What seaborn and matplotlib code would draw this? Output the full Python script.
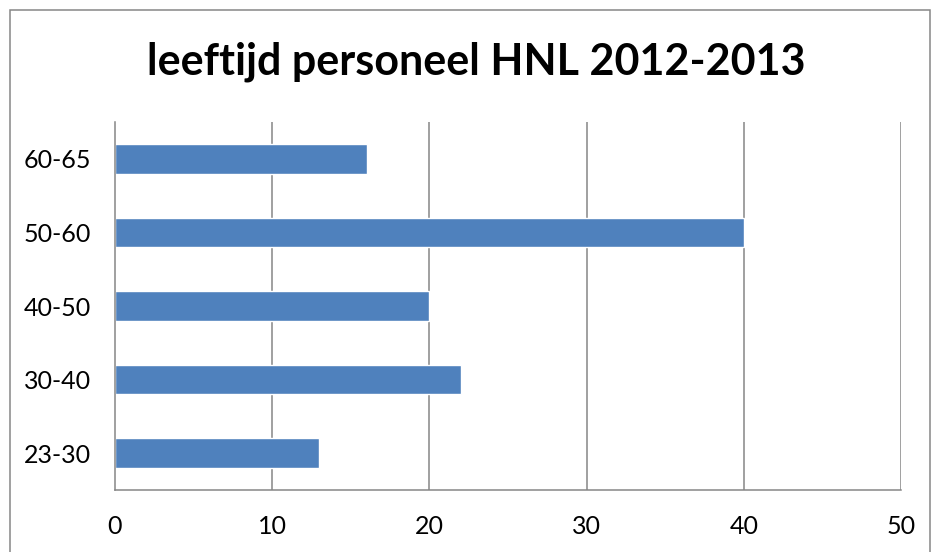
import matplotlib.pyplot as plt
import matplotlib.patches as mpatches
import pandas as pd
import seaborn as sns

# data
categories = ["60-65", "50-60", "40-50", "30-40", "23-30"]
values = [16, 40, 20, 22, 13]
x_ticks = [0, 10, 20, 30, 40, 50]

BAR_COLOR = "#4F81BD"
LINE_COLOR = "#868686"

sns.set_style("white")
plt.rcParams["font.family"] = ["Lato", "DejaVu Sans"]

df = pd.DataFrame({"leeftijd": categories, "aantal": values})

W, H = 931, 552
fig = plt.figure(figsize=(W / 100, H / 100), dpi=100)
ax = fig.add_axes([115 / W, (H - 490) / H, (901 - 115) / W, (490 - 122) / H])

sns.barplot(data=df, x="aantal", y="leeftijd", order=categories, orient="h",
            color=BAR_COLOR, width=0.4, saturation=1, ax=ax, zorder=3)

ax.set_xlim(0, 50)
ax.set_xticks(x_ticks)
ax.set_ylim(len(categories) - 0.5, -0.5)
ax.set_xlabel("")
ax.set_ylabel("")

# gridlines
for t in x_ticks[1:]:
    ax.axvline(t, color=LINE_COLOR, lw=1.1, zorder=1)

# spines
for s in ["top", "right"]:
    ax.spines[s].set_visible(False)
for s in ["left", "bottom"]:
    ax.spines[s].set_color(LINE_COLOR)
    ax.spines[s].set_linewidth(1.1)
    ax.spines[s].set_zorder(4)

# category ticks at boundaries (Excel style)
ax.set_yticks([i - 0.5 for i in range(len(categories) + 1)], minor=True)
ax.tick_params(axis="y", which="major", length=0, pad=17, labelsize=18, labelcolor="black")
ax.tick_params(axis="y", which="minor", length=8, width=1.1, color=LINE_COLOR, direction="out")
ax.tick_params(axis="x", which="major", length=8, width=1.1, color=LINE_COLOR, direction="out",
               pad=10, labelsize=18, labelcolor="black")

fig.text(476 / W, 1 - 62 / H, "leeftijd personeel HNL 2012-2013", ha="center", va="center",
         fontsize=31, fontweight="bold", color="black")

# chart border
fig.patches.append(mpatches.Rectangle((10 / W, -0.1), (930 - 10) / W, 1.1 - 10 / H,
                                      transform=fig.transFigure, fill=False,
                                      edgecolor=LINE_COLOR, lw=1.1))

fig.savefig("out.png", dpi=100)
